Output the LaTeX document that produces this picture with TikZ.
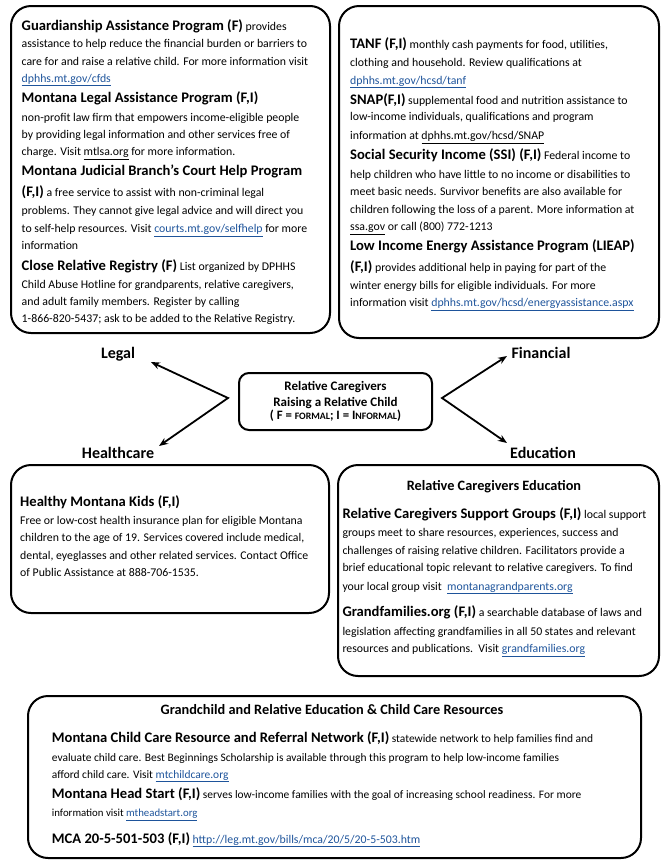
\documentclass[tikz,border=0pt]{standalone}
\usepackage{fontspec}
\setmainfont{Carlito}
\usetikzlibrary{arrows.meta}
\definecolor{linkblue}{RGB}{30,84,155}
\newcommand\hd[1]{{\fontsize{14.6}{16}\selectfont\bfseries #1}}
\newcommand\bhd[1]{{\fontsize{14.6}{16}\selectfont\bfseries #1}}
\newcommand\blnk[1]{\textcolor{linkblue}{\underline{#1}}}
\newcommand\klnk[1]{\underline{#1}}
\newcommand\fsc[1]{{\fontsize{9.8}{11}\selectfont #1}}
\begin{document}
\begin{tikzpicture}[x=1pt,y=-1pt,
  panel/.style={draw, line width=2pt, rounded corners=20pt, inner sep=0, anchor=north west},
  hubbox/.style={draw, line width=2pt, rounded corners=10pt, inner sep=0, minimum width=193, minimum height=57, align=center, font=\fontsize{13}{15.5}\selectfont\bfseries},
  txt/.style={anchor=base west, inner sep=0, font=\fontsize{11.8}{14}\selectfont},
  btxt/.style={anchor=base west, inner sep=0, font=\fontsize{11.45}{13}\selectfont},
  ttl/.style={anchor=base, inner sep=0, font=\fontsize{14.3}{16}\selectfont\bfseries},
  lab/.style={anchor=base, inner sep=0, font=\fontsize{16}{18}\selectfont\bfseries},
  arr/.style={line width=1.8pt, {Stealth[length=9pt,width=7pt]}-{Stealth[length=9pt,width=7pt]}}]
\useasboundingbox (0,0) rectangle (669,860);

% panels
\node[panel, minimum width=319, minimum height=327] (legalbox) at (10,5) {};
\node[panel, minimum width=320, minimum height=332] (finbox) at (338,5) {};
\node[panel, minimum width=318, minimum height=148] (hlthbox) at (10,464) {};
\node[panel, minimum width=321, minimum height=211] (edubox) at (337,464) {};
\node[panel, minimum width=613, minimum height=162] (gbox) at (27,695) {};

% hub
\node[hubbox] (hub) at (335.5,401.5) {Relative Caregivers\\Raising a Relative Child\\[-2pt]{\fontsize{12.8}{13}\selectfont ( F = \fsc{FORMAL}; I = I\fsc{NFORMAL})}};

% labels
\node[lab] (legal) at (118,358) {Legal};
\node[lab] (fin) at (541,358) {Financial};
\node[lab] (hlth) at (118,458) {Healthcare};
\node[lab] (edu) at (543,458) {Education};

% connectors
\coordinate (lv) at (228,398);
\coordinate (rv) at (442,398);
\coordinate (legtip) at (151,362);
\coordinate (hlttip) at (159,446);
\coordinate (fintip) at (507,356);
\coordinate (edutip) at (507,443);
\draw[arr] (legtip) -- (lv) -- (hlttip);
\draw[arr] (fintip) -- (rv) -- (edutip);

% Legal box text
\node[txt] (a1) at (21.5,30) {\hd{Guardianship Assistance Program (F)} provides};
\node[txt] (a2) at (21.5,47.7) {assistance to help reduce the financial burden or barriers to};
\node[txt] (a3) at (21.5,65.7) {care for and raise a relative child. For more information visit};
\node[txt] (a4) at (21.5,82) {\blnk{dphhs.mt.gov/cfds}};
\node[txt] (a5) at (21.5,102.7) {\hd{Montana Legal Assistance Program (F,I)}};
\node[txt] (a6) at (21.5,121.7) {non-profit law firm that empowers income-eligible people};
\node[txt] (a7) at (21.5,138.3) {by providing legal information and other services free of};
\node[txt] (a8) at (21.5,155.7) {charge. Visit \klnk{mtlsa.org} for more information.};
\node[txt] (a9) at (21.5,175.7) {\hd{Montana Judicial Branch’s Court Help Program}};
\node[txt] (a10) at (21.5,196.7) {\hd{(F,I)} a free service to assist with non-criminal legal};
\node[txt] (a11) at (21.5,214.3) {problems. They cannot give legal advice and will direct you};
\node[txt] (a12) at (21.5,232.7) {to self-help resources. Visit \blnk{courts.mt.gov/selfhelp} for more};
\node[txt] (a13) at (21.5,249.3) {information};
\node[txt] (a14) at (21.5,270) {\hd{Close Relative Registry (F)} List organized by DPHHS};
\node[txt] (a15) at (21.5,288.3) {Child Abuse Hotline for grandparents, relative caregivers,};
\node[txt] (a16) at (21.5,305.7) {and adult family members. Register by calling};
\node[txt] (a17) at (21.5,322.7) {1-866-820-5437; ask to be added to the Relative Registry.};

% Financial box text
\node[txt] (b1) at (350,48.3) {\hd{TANF (F,I)} monthly cash payments for food, utilities,};
\node[txt] (b2) at (350,66.7) {clothing and household. Review qualifications at};
\node[txt] (b3) at (350,84) {\blnk{dphhs.mt.gov/hcsd/tanf}};
\node[txt] (b4) at (350,104.3) {\hd{SNAP(F,I)} supplemental food and nutrition assistance to};
\node[txt] (b5) at (350,120.7) {low-income individuals, qualifications and program};
\node[txt] (b6) at (350,139.3) {information at \klnk{dphhs.mt.gov/hcsd/SNAP}};
\node[txt] (b7) at (350,159.3) {\hd{Social Security Income (SSI) (F,I)} Federal income to};
\node[txt] (b8) at (350,178.3) {help children who have little to no income or disabilities to};
\node[txt] (b9) at (350,195.7) {meet basic needs. Survivor benefits are also available for};
\node[txt] (b10) at (350,213.3) {children following the loss of a parent. More information at};
\node[txt] (b11) at (350,230.7) {\klnk{ssa.gov} or call (800) 772-1213};
\node[txt] (b12) at (350,250.7) {\hd{Low Income Energy Assistance Program (LIEAP)}};
\node[txt] (b13) at (350,271.7) {\hd{(F,I)} provides additional help in paying for part of the};
\node[txt] (b14) at (350,289.3) {winter energy bills for eligible individuals. For more};
\node[txt] (b15) at (350,306.7) {information visit \blnk{dphhs.mt.gov/hcsd/energyassistance.aspx}};

% Healthcare box text
\node[txt] (c1) at (20,506.7) {\hd{Healthy Montana Kids (F,I)}};
\node[txt] (c2) at (20,524.3) {Free or low-cost health insurance plan for eligible Montana};
\node[txt] (c3) at (20,541.7) {children to the age of 19. Services covered include medical,};
\node[txt] (c4) at (20,559) {dental, eyeglasses and other related services. Contact Office};
\node[txt] (c5) at (20,576.7) {of Public Assistance at 888-706-1535.};

% Education box text
\node[ttl] (d0) at (494,490) {Relative Caregivers Education};
\node[txt] (d1) at (342.3,518.3) {\hd{Relative Caregivers Support Groups (F,I)} local support};
\node[txt] (d2) at (342.3,536.7) {groups meet to share resources, experiences, success and};
\node[txt] (d3) at (342.3,554) {challenges of raising relative children. Facilitators provide a};
\node[txt] (d4) at (342.3,571.7) {brief educational topic relevant to relative caregivers. To find};
\node[txt] (d5) at (342.3,590) {your local group visit\ \ \blnk{montanagrandparents.org}};
\node[txt] (d6) at (342.3,616.7) {\hd{Grandfamilies.org (F,I)} a searchable database of laws and};
\node[txt] (d7) at (342.3,635) {legislation affecting grandfamilies in all 50 states and relevant};
\node[txt] (d8) at (342.3,652.7) {resources and publications.\ \ Visit \blnk{grandfamilies.org}};

% Grandchild box text
\node[ttl] (e0) at (332,714) {Grandchild and Relative Education \& Child Care Resources};
\node[btxt] (e1) at (51.7,742.7) {\bhd{Montana Child Care Resource and Referral Network (F,I)} statewide network to help families find and};
\node[btxt] (e2) at (51.7,761.7) {evaluate child care. Best Beginnings Scholarship is available through this program to help low-income families};
\node[btxt] (e3) at (51.7,778) {afford child care. Visit \blnk{mtchildcare.org}};
\node[btxt] (e4) at (51.7,798) {\bhd{Montana Head Start (F,I)} serves low-income families with the goal of increasing school readiness. For more};
\node[btxt] (e5) at (51.7,816.7) {{\fontsize{10.8}{12}\selectfont information visit \blnk{mtheadstart.org}}};
\node[btxt] (e6) at (51.7,843) {\bhd{MCA 20-5-501-503 (F,I)} {\fontsize{11.8}{13}\selectfont\blnk{http://leg.mt.gov/bills/mca/20/5/20-5-503.htm}}};
\end{tikzpicture}
\end{document}
